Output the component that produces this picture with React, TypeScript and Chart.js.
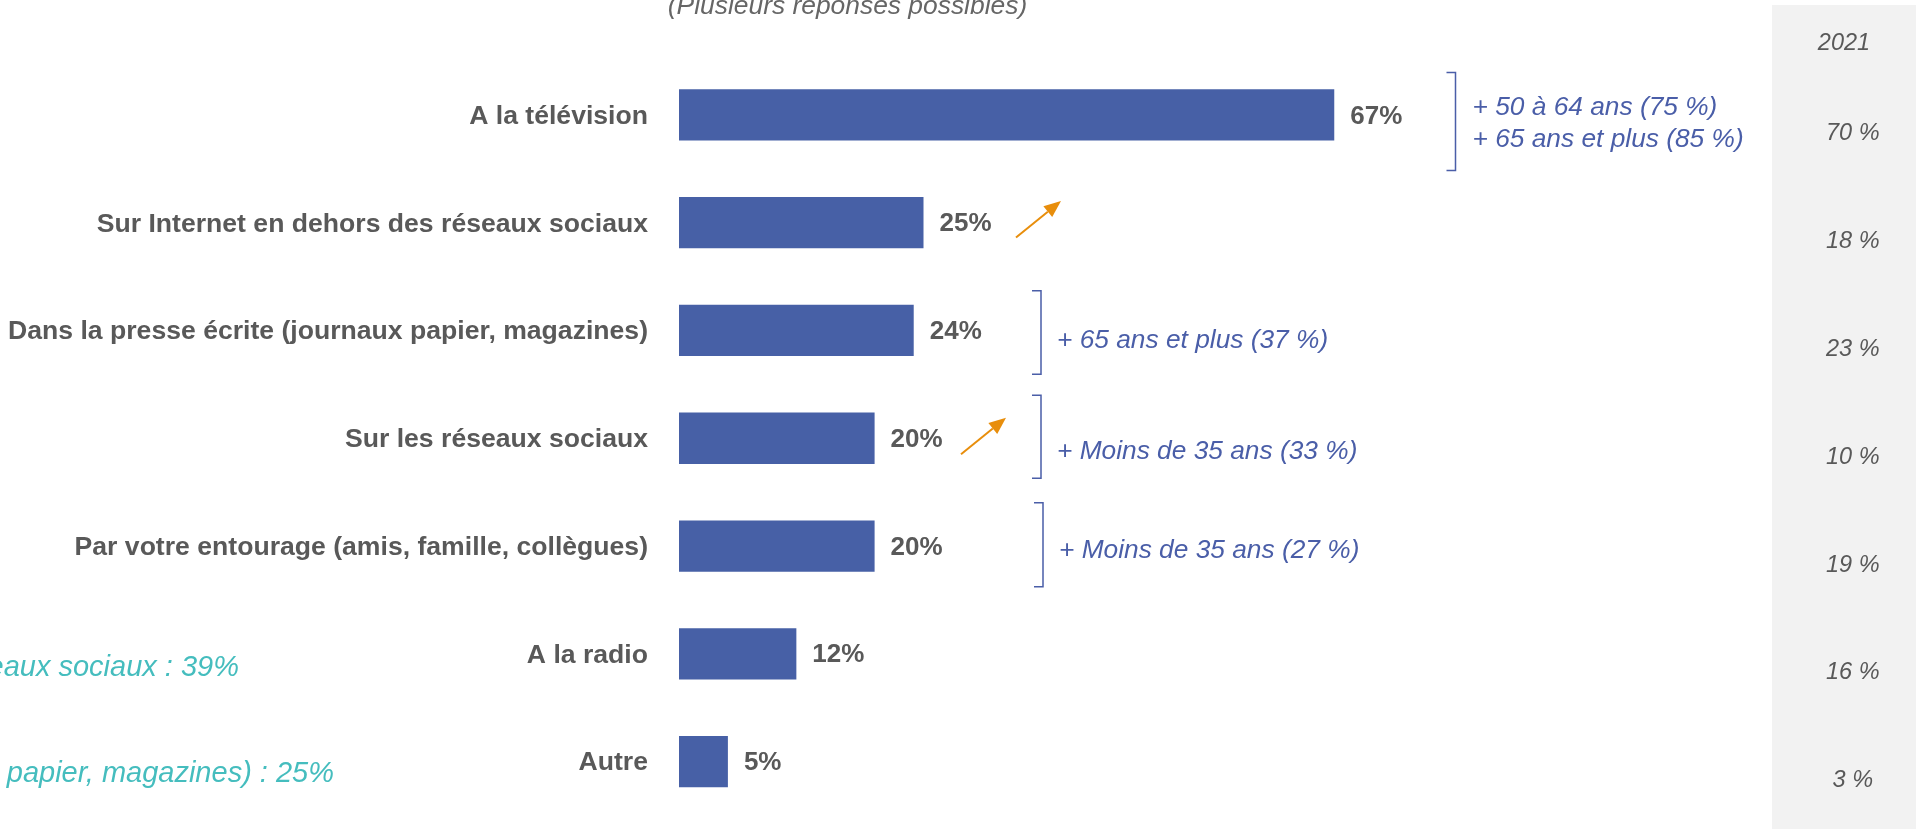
import React, { useEffect, useRef } from 'react';
import { Chart, registerables } from 'chart.js';

Chart.register(...registerables);

// ---------- data ----------
const categories = [
  'A la télévision',
  'Sur Internet en dehors des réseaux sociaux',
  'Dans la presse écrite (journaux papier, magazines)',
  'Sur les réseaux sociaux',
  'Par votre entourage (amis, famille, collègues)',
  'A la radio',
  'Autre',
];
const shares = [67, 25, 24, 20, 20, 12, 5];
const shares2021 = [70, 18, 23, 10, 19, 16, 3];
const columnYear = '2021';
const subtitle = '(Plusieurs réponses possibles)';
const subgroupNotes: string[][] = [
  ['+ 50 à 64 ans (75 %)', '+ 65 ans et plus (85 %)'],
  [],
  ['+ 65 ans et plus (37 %)'],
  ['+ Moins de 35 ans (33 %)'],
  ['+ Moins de 35 ans (27 %)'],
  [],
  [],
];
const risingRows = [1, 3];
const earlierNotes = [
  'Sur Internet, y compris les réseaux sociaux : 39%',
  'Dans la presse écrite (journaux papier, magazines) : 25%',
];

// ---------- layout / style ----------
const W = 1926;
const H = 829;
const FONT = "'Liberation Sans', Arial, sans-serif";
const PLOT_LEFT = 679;
const PLOT_RIGHT = 1772;
const PX_PER_UNIT = 9.78;
const X_MAX = (PLOT_RIGHT - PLOT_LEFT) / PX_PER_UNIT;
const BAR_COLOR = '#4760A6';
const NOTE_BLUE = '#4A5EA8';
const GREY_TEXT = '#595959';
const ORANGE = '#E88E0C';
const CYAN = '#45BDBE';

// bracket layout per row with notes
const bracketLayout: Record<number, { bx: number; top: number; bottom: number; tx: number; lines: number[] }> = {
  0: { bx: 1455.5, top: -42.5, bottom: 55.5, tx: 1472.5, lines: [0.5, 32] },
  2: { bx: 1041, top: -39.8, bottom: 43.8, tx: 1057, lines: [17.8] },
  3: { bx: 1041, top: -43, bottom: 40, tx: 1057, lines: [20.3] },
  4: { bx: 1043, top: -43.3, bottom: 40.7, tx: 1059, lines: [12.3] },
};
const arrowLayout: Record<number, { x: number; dy: number }> = {
  1: { x: 1016, dy: 14.8 },
  3: { x: 961, dy: 16 },
};
const earlierLayout = [
  { row: 5, right: 239, dy: 21.8 },
  { row: 6, right: 334, dy: 20.7 },
];

const overlayPlugin = {
  id: 'overlay',
  beforeDraw(chart: any) {
    const ctx = chart.ctx as CanvasRenderingContext2D;
    ctx.save();
    ctx.fillStyle = '#F2F2F2';
    ctx.fillRect(PLOT_RIGHT, 5, 1916 - PLOT_RIGHT, H - 5);
    ctx.restore();
  },
  afterDatasetsDraw(chart: any) {
    const ctx = chart.ctx as CanvasRenderingContext2D;
    const x = chart.scales.x;
    const y = chart.scales.y;
    ctx.save();

    // subtitle (clipped at top like the source)
    ctx.font = `italic 26.4px ${FONT}`;
    ctx.fillStyle = '#666666';
    ctx.textAlign = 'center';
    ctx.textBaseline = 'alphabetic';
    ctx.fillText(subtitle, 847.5, 14);

    // year header
    ctx.font = `italic 23.5px ${FONT}`;
    ctx.fillStyle = GREY_TEXT;
    ctx.fillText(columnYear, 1844, 50);

    // value labels
    ctx.font = `bold 26px ${FONT}`;
    ctx.fillStyle = GREY_TEXT;
    ctx.textAlign = 'left';
    ctx.textBaseline = 'middle';
    shares.forEach((v, i) => {
      ctx.fillText(`${v}%`, x.getPixelForValue(v) + 16, y.getPixelForValue(i) + 1.5);
    });

    // brackets + subgroup notes
    ctx.strokeStyle = NOTE_BLUE;
    ctx.lineWidth = 1.5;
    ctx.font = `italic 26.3px ${FONT}`;
    ctx.fillStyle = NOTE_BLUE;
    ctx.textBaseline = 'alphabetic';
    subgroupNotes.forEach((lines, i) => {
      if (!lines.length) return;
      const L = bracketLayout[i];
      const cy = y.getPixelForValue(i);
      ctx.beginPath();
      ctx.moveTo(L.bx - 9, cy + L.top);
      ctx.lineTo(L.bx, cy + L.top);
      ctx.lineTo(L.bx, cy + L.bottom);
      ctx.lineTo(L.bx - 9, cy + L.bottom);
      ctx.stroke();
      lines.forEach((t, k) => ctx.fillText(t, L.tx, cy + L.lines[k]));
    });

    // orange rising arrows
    ctx.strokeStyle = ORANGE;
    ctx.fillStyle = ORANGE;
    ctx.lineWidth = 2;
    risingRows.forEach((r) => {
      const A = arrowLayout[r];
      const cy = y.getPixelForValue(r);
      const x0 = A.x;
      const y0 = cy + A.dy;
      const x1 = x0 + 45;
      const y1 = y0 - 36.5;
      const ang = Math.atan2(y1 - y0, x1 - x0);
      const hl = 17;
      const hw = 7;
      const bx = x1 - hl * Math.cos(ang);
      const by = y1 - hl * Math.sin(ang);
      ctx.beginPath();
      ctx.moveTo(x0, y0);
      ctx.lineTo(bx, by);
      ctx.stroke();
      ctx.beginPath();
      ctx.moveTo(x1, y1);
      ctx.lineTo(bx + hw * Math.sin(ang), by - hw * Math.cos(ang));
      ctx.lineTo(bx - hw * Math.sin(ang), by + hw * Math.cos(ang));
      ctx.closePath();
      ctx.fill();
    });

    // earlier-wave notes (cut at the left edge)
    ctx.font = `italic 29px ${FONT}`;
    ctx.fillStyle = CYAN;
    ctx.textAlign = 'right';
    earlierNotes.forEach((t, k) => {
      const E = earlierLayout[k];
      ctx.fillText(t, E.right, y.getPixelForValue(E.row) + E.dy);
    });

    ctx.restore();
  },
};

export default function App() {
  const ref = useRef<HTMLCanvasElement | null>(null);

  useEffect(() => {
    if (!ref.current) return;
    const chart = new Chart(ref.current, {
      type: 'bar',
      data: {
        labels: categories,
        datasets: [
          {
            data: shares,
            backgroundColor: BAR_COLOR,
            borderWidth: 0,
            barPercentage: 0.476,
            categoryPercentage: 1,
          },
        ],
      },
      options: {
        indexAxis: 'y',
        responsive: false,
        animation: false,
        events: [],
        layout: { padding: { left: 0, right: 0, top: 61, bottom: 13.5 } },
        plugins: {
          legend: { display: false },
          tooltip: { enabled: false },
          title: { display: false },
        },
        scales: {
          x: { type: 'linear', min: 0, max: X_MAX, display: false },
          y: {
            type: 'category',
            position: 'left',
            grid: { display: false },
            border: { display: false },
            ticks: {
              autoSkip: false,
              padding: 23,
              labelOffset: 1.5,
              color: GREY_TEXT,
              font: { family: FONT, size: 26.6, weight: 'bold' },
            },
            afterFit: (s: any) => {
              s.width = PLOT_LEFT;
              s.paddingTop = 0;
              s.paddingBottom = 0;
            },
          },
          y2: {
            type: 'category',
            position: 'right',
            labels: shares2021.map((v) => `${v} %`),
            offset: true,
            grid: { display: false },
            border: { display: false },
            ticks: {
              autoSkip: false,
              padding: 46,
              crossAlign: 'center',
              labelOffset: 19,
              color: GREY_TEXT,
              font: { family: FONT, size: 23.5, style: 'italic' },
            },
            afterFit: (s: any) => {
              s.width = W - PLOT_RIGHT;
              s.paddingTop = 0;
              s.paddingBottom = 0;
            },
          },
        },
      } as any,
      plugins: [overlayPlugin],
    });
    return () => chart.destroy();
  }, []);

  return (
    <div style={{ position: 'absolute', left: 0, top: 0, width: W, height: H, background: '#ffffff' }}>
      <canvas ref={ref} width={W} height={H} style={{ display: 'block', width: W, height: H }} />
    </div>
  );
}
